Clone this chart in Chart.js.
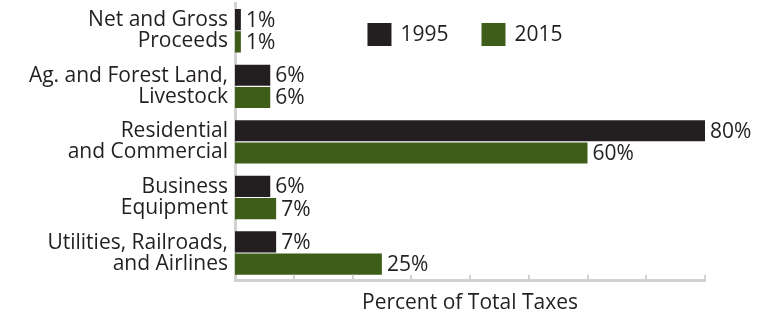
<!DOCTYPE html>
<html>
<head>
<meta charset="utf-8">
<script src="https://cdn.jsdelivr.net/npm/chart.js@4"></script>
<style>
  html, body { margin: 0; padding: 0; background: #ffffff; }
  #wrap { width: 774px; height: 316px; }
</style>
</head>
<body>
<div id="wrap"><canvas id="c" width="774" height="316"></canvas></div>
<script>
const categories = [
  ["Net and Gross", "Proceeds"],
  ["Ag. and Forest Land,", "Livestock"],
  ["Residential", "and Commercial"],
  ["Business", "Equipment"],
  ["Utilities, Railroads,", "and Airlines"]
];
const seriesNames = ["1995", "2015"];
const values1995 = [1, 6, 80, 6, 7];
const values2015 = [1, 6, 60, 7, 25];
const xTickValues = [10, 20, 30, 40, 50, 60, 70, 80];
const axisTitle = "Percent of Total Taxes";

const TEXT = "#231f20";
const GRAY = "#d2d2d2";
const FONT = "'Open Sans', 'Noto Sans', sans-serif";
const FSIZE = 21;

const valueLabels = {
  id: "valueLabels",
  afterDatasetsDraw(chart) {
    const ctx = chart.ctx;
    ctx.save();
    ctx.font = FSIZE + "px " + FONT;
    ctx.fillStyle = TEXT;
    ctx.textAlign = "left";
    ctx.textBaseline = "middle";
    chart.data.datasets.forEach((ds, i) => {
      const meta = chart.getDatasetMeta(i);
      meta.data.forEach((el, j) => {
        ctx.fillText(ds.data[j] + "%", el.x + 5, el.y + 1);
      });
    });
    ctx.restore();
  }
};

const upTicks = {
  id: "upTicks",
  afterDatasetsDraw(chart) {
    const ctx = chart.ctx;
    const xs = chart.scales.x;
    const bottom = chart.chartArea.bottom;
    ctx.save();
    ctx.strokeStyle = GRAY;
    ctx.lineWidth = 2;
    xTickValues.forEach(v => {
      const px = Math.round(xs.getPixelForValue(v));
      ctx.beginPath();
      ctx.moveTo(px, bottom);
      ctx.lineTo(px, bottom - 6);
      ctx.stroke();
    });
    ctx.restore();
  }
};

const customLegend = {
  id: "customLegend",
  afterDraw(chart) {
    const ctx = chart.ctx;
    const ca = chart.chartArea;
    ctx.save();
    ctx.font = FSIZE + "px " + FONT;
    ctx.textBaseline = "middle";
    ctx.textAlign = "left";
    const box = 24, gap = 9, itemGap = 33;
    const items = chart.data.datasets.map(ds => ({ label: ds.label, color: ds.backgroundColor, w: box + gap + ctx.measureText(ds.label).width }));
    const total = items.reduce((s, it) => s + it.w, 0) + itemGap * (items.length - 1);
    let x = (ca.left + ca.right) / 2 - 5 - total / 2;
    const cy = ca.top + 31.5;
    items.forEach(it => {
      ctx.fillStyle = it.color;
      ctx.fillRect(x, cy - 11.5, box, 23);
      ctx.fillStyle = TEXT;
      ctx.fillText(it.label, x + box + gap, cy + 1);
      x += it.w + itemGap;
    });
    ctx.restore();
  }
};

new Chart(document.getElementById("c"), {
  type: "bar",
  data: {
    labels: categories,
    datasets: [
      { label: seriesNames[0], data: values1995, backgroundColor: "#231f20", barPercentage: 0.95, categoryPercentage: 0.8 },
      { label: seriesNames[1], data: values2015, backgroundColor: "#3e5d18", barPercentage: 0.95, categoryPercentage: 0.8 }
    ]
  },
  options: {
    indexAxis: "y",
    responsive: false,
    animation: false,
    devicePixelRatio: 1,
    layout: { padding: { top: 3, right: 69, bottom: 0, left: 0 } },
    plugins: {
      legend: { display: false },
      tooltip: { enabled: false }
    },
    scales: {
      x: {
        min: 0,
        max: 80,
        ticks: { display: false, stepSize: 10 },
        grid: { display: false, drawTicks: false },
        border: { display: true, color: GRAY, width: 3 },
        title: {
          display: true,
          text: axisTitle,
          color: TEXT,
          font: { family: FONT, size: FSIZE, lineHeight: 1.2 },
          padding: { top: 10, bottom: 0 }
        }
      },
      y: {
        ticks: {
          color: TEXT,
          font: { family: FONT, size: FSIZE, lineHeight: 1.0 },
          padding: 7,
          autoSkip: false
        },
        grid: { display: false, drawTicks: false },
        border: { display: true, color: GRAY, width: 3 },
        afterFit(scale) {
          scale.width = 235;
          scale.paddingTop = 0;
          scale.paddingBottom = 0;
        }
      }
    }
  },
  plugins: [valueLabels, upTicks, customLegend]
});
</script>
</body>
</html>
